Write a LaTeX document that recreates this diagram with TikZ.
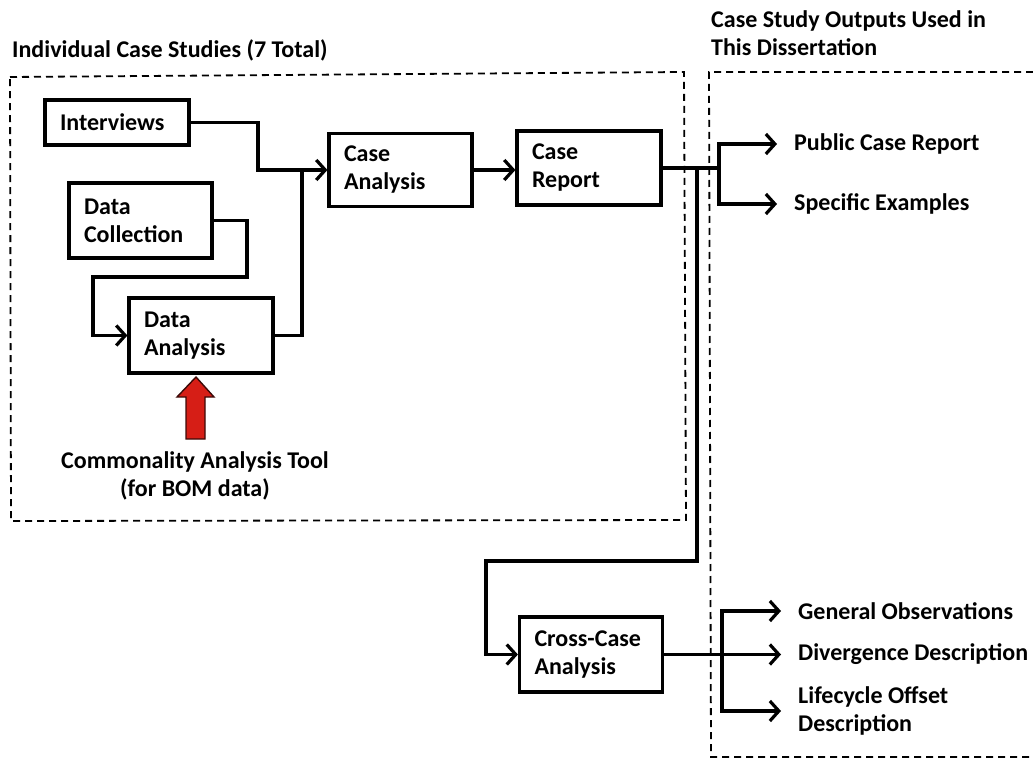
\documentclass[tikz,border=0pt]{standalone}
\usepackage{fontspec}
\setmainfont{Carlito}
\usetikzlibrary{arrows.meta}
\definecolor{toolred}{RGB}{214,30,22}
\definecolor{toolrim}{RGB}{60,10,8}
\tikzset{
  base/.style={font=\fontsize{24}{28}\selectfont\bfseries},
  stepbox/.style={base, draw, line width=3.2pt, align=left, inner xsep=15pt,
    inner ysep=0pt, anchor=center},
  outtext/.style={base, align=left, anchor=west, inner xsep=17pt, inner ysep=0pt},
  heading/.style={base, align=left, anchor=west, inner sep=0pt},
  wire/.style={line width=3.2pt},
  arr/.style={wire, -{Straight Barb[length=9pt,width=20pt,line width=3.2pt]}},
  frame/.style={line width=1.8pt, dash pattern=on 7pt off 5pt},
}
\begin{document}
\begin{tikzpicture}[x=1pt,y=-1pt]
\useasboundingbox (0,0) rectangle (1033,759);

% dashed frames
\draw[frame] (10,77) -- (684,72) -- (686,520) -- (11,521) -- cycle;
\draw[frame] (1033,72) -- (709,72) -- (711,757) -- (1033,757);

% headings
\node[heading] (t1) at (12,50) {Individual Case Studies (7 Total)};
\node[heading] (t2) at (711,33) {Case Study Outputs Used in\\This Dissertation};

% process boxes
\node[stepbox, text width=114pt, minimum height=45pt] (int) at (117,122.5) {Interviews};
\node[stepbox, text width=113pt, minimum height=75pt] (dc) at (140.5,220.5) {Data\\Collection};
\node[stepbox, text width=114pt, minimum height=75pt] (da) at (201,335.5) {Data\\Analysis};
\node[stepbox, text width=113pt, minimum height=73pt] (ca) at (400.5,170) {Case\\Analysis};
\node[stepbox, text width=114pt, minimum height=74pt] (cr) at (589,168) {Case\\Report};
\node[stepbox, text width=113pt, minimum height=75pt] (cc) at (591,654.5) {Cross-Case\\Analysis};

% tool label and red block arrow
\node[base, align=center, inner sep=0pt] (tool) at (195,476) {Commonality Analysis Tool\\(for BOM data)};
\draw[line width=1.4pt, draw=toolrim, fill=toolred, line join=miter]
  (196,377) -- (214,397) -- (205,397) -- (205,439) -- (186,439) -- (186,397) -- (177,397) -- cycle;

% connectors inside the case-study frame
\coordinate (j1) at (302,170);
\draw[arr] (int.east) -| (258,170) -- (ca.west);
\draw[wire] (da.east) -| (j1);
\draw[arr] (dc.east) -| (247,277) -| (93,335.5) -- (da.west);
\draw[arr] (ca.east) -- (ca.east -| cr.west);

% outputs of the case report
\node[outtext] (pcr) at (777,144) {Public Case Report};
\node[outtext] (se) at (777,204) {Specific Examples};
\coordinate (j2) at (719,168);
\draw[wire] (cr.east) -- (j2);
\draw[arr] (j2) |- (pcr.west);
\draw[arr] (j2) |- (se.west);

% route down to the cross-case analysis
\draw[arr] (697,168) |- (486,561) |- (cc.west);

% outputs of the cross-case analysis
\node[outtext] (gen) at (781,611) {General Observations};
\node[outtext] (div) at (781,654.5) {Divergence Description};
\node[outtext] (life) at (781,711) {Lifecycle Offset\\Description};
\coordinate (j3) at (722,654.5);
\draw[arr] (cc.east) -- (div.west);
\draw[arr] (j3) |- (gen.west);
\draw[arr] (j3) |- (life.west);
\end{tikzpicture}
\end{document}
